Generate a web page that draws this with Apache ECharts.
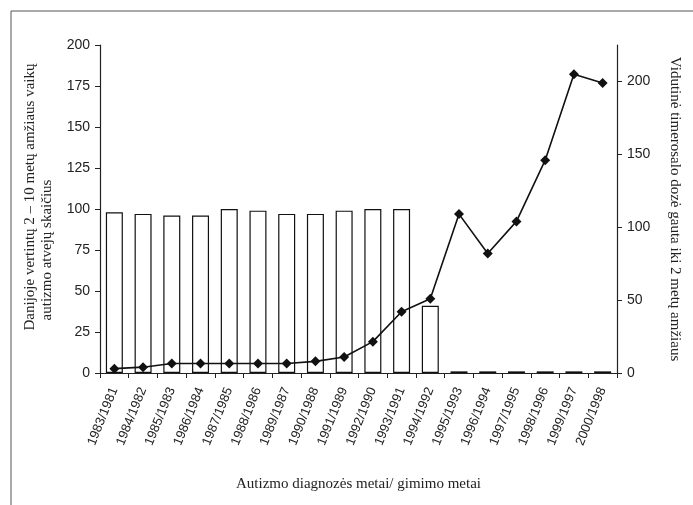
<!DOCTYPE html>
<html>
<head>
<meta charset="utf-8">
<script src="https://cdn.jsdelivr.net/npm/echarts@6/dist/echarts.min.js"></script>
<style>
  html, body { margin: 0; padding: 0; background: #fff; }
  #chart { width: 693px; height: 505px; }
</style>
</head>
<body>
<div id="chart"></div>
<script>
// metai: diagnozės / gimimo
const categories = [
  '1983/1981', '1984/1982', '1985/1983', '1986/1984', '1987/1985', '1988/1986',
  '1989/1987', '1990/1988', '1991/1989', '1992/1990', '1993/1991', '1994/1992',
  '1995/1993', '1996/1994', '1997/1995', '1998/1996', '1999/1997', '2000/1998'
]
// autizmo atvejų skaičius (kairė ašis)
const autismCases = [98, 97, 96, 96, 100, 99, 97, 97, 99, 100, 100, 41, 1, 1, 1, 1, 1, 1]
// timerosalo dozė (dešinė ašis)
const thimerosalDose = [3, 4, 6.5, 6.5, 6.5, 6.5, 6.5, 8, 11, 21.5, 42, 51, 109, 82, 104, 146, 205, 199]
const leftTicks = [0, 25, 50, 75, 100, 125, 150, 175, 200]
const rightTicks = [0, 50, 100, 150, 200]

const ink = '#222'
const chart = echarts.init(document.getElementById('chart'))

chart.setOption({
  animation: false,
  grid: {left: 100, right: 76, top: 45, bottom: 132},
  xAxis: {
    type: 'category',
    data: categories,
    name: 'Autizmo diagnozės metai/ gimimo metai',
    nameLocation: 'middle',
    nameGap: 104,
    nameTextStyle: {fontFamily: 'Liberation Serif', fontSize: 15, color: ink},
    axisLine: {lineStyle: {color: ink, width: 1.2}},
    axisTick: {show: true, length: 5, lineStyle: {color: ink}},
    axisLabel: {
      interval: 0,
      rotate: 68,
      margin: 15,
      fontFamily: 'Liberation Sans',
      fontSize: 13,
      color: ink
    }
  },
  yAxis: [
    {
      type: 'value',
      min: 0,
      max: 200,
      interval: 25,
      splitLine: {show: false},
      axisLine: {show: true, lineStyle: {color: ink, width: 1.2}},
      axisTick: {show: true, length: 5, customValues: leftTicks, lineStyle: {color: ink}},
      axisLabel: {
        customValues: leftTicks,
        margin: 10,
        fontFamily: 'Liberation Sans',
        fontSize: 14,
        color: ink
      }
    },
    {
      type: 'value',
      min: 0,
      max: 225,
      position: 'right',
      name: 'Vidutinė timerosalo dozė gauta iki 2 metų amžiaus',
      nameLocation: 'middle',
      nameRotate: -90,
      nameGap: 50,
      nameTextStyle: {fontFamily: 'Liberation Serif', fontSize: 15, color: ink},
      splitLine: {show: false},
      axisLine: {show: true, lineStyle: {color: ink, width: 1.2}},
      axisTick: {show: true, length: 5, customValues: rightTicks, lineStyle: {color: ink}},
      axisLabel: {
        customValues: rightTicks,
        margin: 10,
        fontFamily: 'Liberation Sans',
        fontSize: 14,
        color: ink
      }
    }
  ],
  series: [
    {
      type: 'bar',
      data: autismCases,
      yAxisIndex: 0,
      barWidth: 17,
      itemStyle: {color: '#fff', borderColor: '#111', borderWidth: 1.2}
    },
    {
      type: 'line',
      data: thimerosalDose,
      yAxisIndex: 1,
      symbol: 'diamond',
      symbolSize: 10,
      lineStyle: {color: '#111', width: 1.6},
      itemStyle: {color: '#111'}
    }
  ],
  graphic: [
    {type: 'line', shape: {x1: 11, y1: 11, x2: 693, y2: 11}, style: {stroke: '#555', lineWidth: 1}},
    {type: 'line', shape: {x1: 11, y1: 11, x2: 11, y2: 505}, style: {stroke: '#555', lineWidth: 1}},
    {
      type: 'text', x: 30, y: 197, rotation: Math.PI / 2,
      style: {text: 'Danijoje vertintų 2 – 10 metų amžiaus vaikų', fill: ink,
        font: '15px "Liberation Serif"', align: 'center', verticalAlign: 'middle'}
    },
    {
      type: 'text', x: 47, y: 250, rotation: Math.PI / 2,
      style: {text: 'autizmo atvejų skaičius', fill: ink,
        font: '15px "Liberation Serif"', align: 'center', verticalAlign: 'middle'}
    }
  ]
})
</script>
</body>
</html>
